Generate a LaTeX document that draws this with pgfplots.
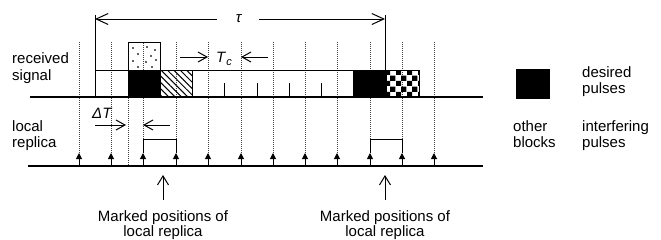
\documentclass[border=0pt]{standalone}
\usepackage{pgfplots}
\pgfplotsset{compat=1.18}
\usepackage{fontspec}
\setmainfont{Liberation Sans}
\usetikzlibrary{arrows.meta,patterns.meta}
\tikzdeclarepattern{
  name=mychecker,
  type=uncolored,
  bottom left={(0pt,0pt)},
  top right={(11bp,11bp)},
  tile size={(11bp,11bp)},
  code={\fill (0,0) rectangle (5.5bp,5.5bp); \fill (5.5bp,5.5bp) rectangle (11bp,11bp);}
}
\newcommand{\lbl}{\fontsize{15bp}{17bp}\selectfont}
\begin{document}
\begin{tikzpicture}
\begin{axis}[scale only axis, width=661bp, height=240bp,
  xmin=0, xmax=661, ymin=0, ymax=240, y dir=reverse,
  hide axis, clip=false]
\coordinate (SW) at (axis cs:0,240);
\coordinate (NE) at (axis cs:661,0);
% dotted grid lines
\pgfplotsinvokeforeach{79,111,143,176,208,241,273,305,337,370,402,434}{
  \addplot[black!75, line width=0.8bp, dash pattern=on 1bp off 1bp] coordinates {(#1,42) (#1,153)};
}
\addplot[black!75, line width=0.8bp, dash pattern=on 1bp off 1bp] coordinates {(128,42) (128,166)};
% boxes
\addplot[draw=black, fill=white, line width=1bp] coordinates {(128,42.7) (160,42.7) (160,70.7) (128,70.7)} --cycle;
\addplot[black!75, line width=0.8bp, dash pattern=on 1bp off 1bp] coordinates {(143,43) (143,70)};
\addplot[only marks, mark=*, mark size=0.7bp, black] coordinates {
 (133,48) (147,47) (155,50) (138,54) (151,56) (133,61) (146,62) (156,60) (138,67) (152,67)};
\addplot[draw=black, fill=black, line width=1bp] coordinates {(128,70.7) (160,70.7) (160,97) (128,97)} --cycle;
\addplot[draw=black, pattern={Lines[angle=-45,distance=4.5bp,line width=1bp]}, line width=1bp] coordinates {(160,70.7) (192,70.7) (192,97) (160,97)} --cycle;
\addplot[draw=black, fill=black, line width=1bp] coordinates {(353,70.7) (386,70.7) (386,97) (353,97)} --cycle;
\addplot[draw=black, pattern=mychecker, pattern color=black, line width=1bp] coordinates {(386,70.7) (419,70.7) (419,97) (386,97)} --cycle;
% received signal lines
\addplot[black, line width=1.1bp] coordinates {(95,70.7) (419,70.7)};
\addplot[black, line width=1.2bp] coordinates {(30,97) (483,97)};
\addplot[black, line width=1bp] coordinates {(95,15) (95,97)};
\addplot[black, line width=1bp] coordinates {(385,15) (385,70.7)};
\pgfplotsinvokeforeach{224,257,289,321}{
  \addplot[black, line width=1bp] coordinates {(#1,83) (#1,97)};
}
% tau arrow
\addplot[{Straight Barb[length=12bp,width=11bp]}-, line width=1bp] coordinates {(95,19) (217,19)};
\addplot[-{Straight Barb[length=12bp,width=11bp]}, line width=1bp] coordinates {(259,19) (385,19)};
% Tc arrows
\addplot[-{Straight Barb[length=9bp,width=10bp]}, line width=1bp] coordinates {(180,57) (208,57)};
\addplot[-{Straight Barb[length=9bp,width=10bp]}, line width=1bp] coordinates {(268,57) (241,57)};
% Delta T arrows
\addplot[-{Straight Barb[length=9bp,width=10bp]}, line width=1bp] coordinates {(95,125) (126,125)};
\addplot[-{Straight Barb[length=9bp,width=10bp]}, line width=1bp] coordinates {(170,125) (143,125)};
% local replica
\addplot[black, line width=1.2bp] coordinates {(28,166) (483,166)};
\pgfplotsinvokeforeach{79,111,143,176,208,241,273,305,337,370,402,434}{
  \addplot[-{Triangle[length=6bp,width=6bp]}, line width=1bp] coordinates {(#1,166) (#1,153)};
}
\addplot[black, line width=1bp] coordinates {(143,153) (143,139) (176,139) (176,153)};
\addplot[black, line width=1bp] coordinates {(370,153) (370,139) (402,139) (402,153)};
% marked arrows
\addplot[-{Straight Barb[length=9bp,width=11bp]}, line width=1bp] coordinates {(163,200) (163,175)};
\addplot[-{Straight Barb[length=9bp,width=11bp]}, line width=1bp] coordinates {(385,200) (385,175)};
% legend box
\addplot[draw=black, fill=black, line width=1bp] coordinates {(516,69) (549,69) (549,98) (516,98)} --cycle;
% texts
\node[anchor=base west, inner sep=0pt, font=\lbl] at (axis cs:12,63) {received};
\node[anchor=base west, inner sep=0pt, font=\lbl] at (axis cs:12,80) {signal};
\node[anchor=base west, inner sep=0pt, font=\lbl] at (axis cs:12,131) {local};
\node[anchor=base west, inner sep=0pt, font=\lbl] at (axis cs:12,147) {replica};
\node[anchor=base west, inner sep=0pt, font=\lbl] at (axis cs:582,77) {desired};
\node[anchor=base west, inner sep=0pt, font=\lbl] at (axis cs:582,93) {pulses};
\node[anchor=base west, inner sep=0pt, font=\lbl] at (axis cs:513,131) {other};
\node[anchor=base west, inner sep=0pt, font=\lbl] at (axis cs:513,147) {blocks};
\node[anchor=base west, inner sep=0pt, font=\lbl] at (axis cs:582,131) {interfering};
\node[anchor=base west, inner sep=0pt, font=\lbl] at (axis cs:582,147) {pulses};
\node[anchor=base, inner sep=0pt, font=\lbl] at (axis cs:163,221) {Marked positions of};
\node[anchor=base, inner sep=0pt, font=\lbl] at (axis cs:163,236.5) {local replica};
\node[anchor=base, inner sep=0pt, font=\lbl] at (axis cs:385,221) {Marked positions of};
\node[anchor=base, inner sep=0pt, font=\lbl] at (axis cs:385,236.5) {local replica};
\node[inner sep=0pt, font=\lbl] at (axis cs:239,19) {\textit{τ}};
\node[anchor=west, inner sep=0pt, font=\lbl] at (axis cs:216,59) {\textit{T}\raisebox{-0.35ex}{\fontsize{11bp}{11bp}\selectfont\textit{c}}};
\node[anchor=west, inner sep=0pt, font=\lbl] at (axis cs:92,113) {\textit{ΔT}};
\end{axis}
\pgfresetboundingbox
\path[use as bounding box] (SW) rectangle (NE);
\end{tikzpicture}
\end{document}
